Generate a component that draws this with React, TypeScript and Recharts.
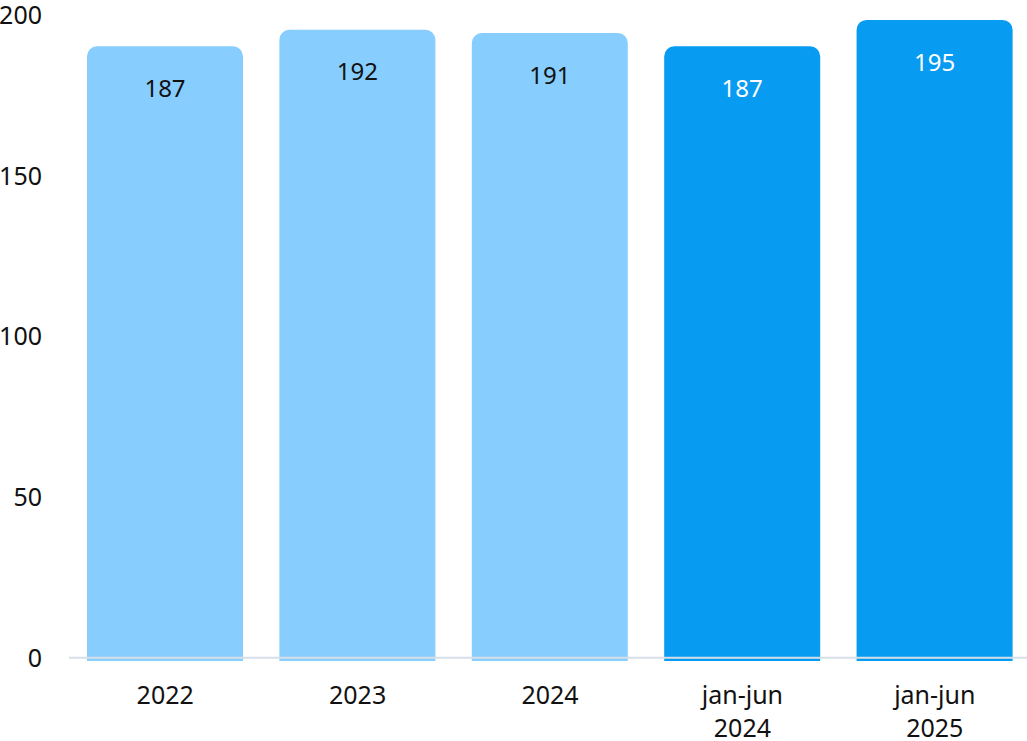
import { BarChart, Bar, XAxis, YAxis, Cell, LabelList, ReferenceLine } from 'recharts'

const periods = ['2022', '2023', '2024', 'jan-jun 2024', 'jan-jun 2025']
const values = [187, 192, 191, 187, 195]
const halfYear = [false, false, false, true, true]
const yTicks = [0, 50, 100, 150, 200]

const data = periods.map((p, i) => ({ period: p, value: values[i], half: halfYear[i] }))

const FONT = '"Noto Sans", "Open Sans", sans-serif'
const LIGHT = '#87CDFE'
const DARK = '#079BF2'

function PeriodTick(props: any) {
  const { x, y, payload } = props
  const lines = String(payload.value).split(' ')
  return (
    <text x={x} y={y} textAnchor="middle" fill="#111" fontFamily={FONT} fontSize={25}>
      {lines.map((l, i) => (
        <tspan key={i} x={x} dy={i === 0 ? 35 : 33}>{l}</tspan>
      ))}
    </text>
  )
}

function CountTick(props: any) {
  const { y, payload } = props
  return (
    <text x={42} y={y} dy="0.36em" textAnchor="end" fill="#111" fontFamily={FONT} fontSize={25}>
      {payload.value}
    </text>
  )
}

function ValueLabel(props: any) {
  const { x, y, width, value, index } = props
  return (
    <text
      x={x + width / 2}
      y={y + 42}
      dy="0.36em"
      textAnchor="middle"
      fill={halfYear[index] ? '#fff' : '#111'}
      fontFamily={FONT}
      fontSize={24}
    >
      {value}
    </text>
  )
}

export default function App() {
  return (
    <div style={{ position: 'absolute', left: 0, top: 0, width: 1027, height: 741, overflow: 'hidden', background: '#fff' }}>
      <BarChart width={1031} height={741} data={data} margin={{ top: 15, right: 0, bottom: 0, left: 0 }}>
        <XAxis
          dataKey="period"
          height={80}
          axisLine={false}
          tickLine={false}
          tick={<PeriodTick />}
          interval={0}
        />
        <YAxis
          yAxisId="left"
          type="number"
          domain={[-1.03, 200]}
          allowDataOverflow
          ticks={yTicks}
          interval={0}
          width={69}
          axisLine={false}
          tickLine={false}
          tick={<CountTick />}
        />
        <YAxis yAxisId="bars" orientation="right" width={0} hide type="number" domain={[0, 196.5]} allowDataOverflow />
        <Bar yAxisId="bars" dataKey="value" barSize={156} radius={[10, 10, 0, 0]} isAnimationActive={false}>
          {data.map((d, i) => (
            <Cell key={i} fill={d.half ? DARK : LIGHT} />
          ))}
          <LabelList dataKey="value" content={<ValueLabel />} />
        </Bar>
        <ReferenceLine yAxisId="left" y={0} stroke="#D6DFE8" strokeWidth={2} />
      </BarChart>
    </div>
  )
}
